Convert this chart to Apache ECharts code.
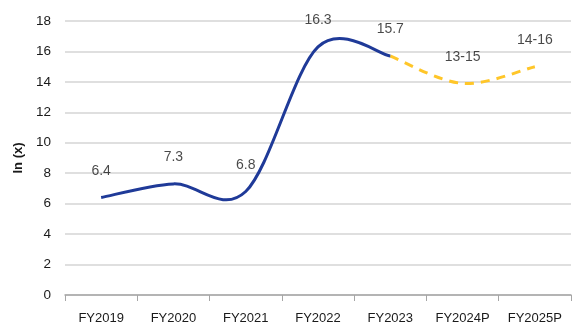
<!DOCTYPE html>
<html>
<head>
<meta charset="utf-8">
<script src="https://cdn.jsdelivr.net/npm/echarts@6/dist/echarts.min.js"></script>
<style>
  html, body { margin: 0; padding: 0; background: #fff; }
  #chart { width: 572px; height: 326px; }
</style>
</head>
<body>
<div id="chart"></div>
<script>
const categories = ["FY2019", "FY2020", "FY2021", "FY2022", "FY2023", "FY2024P", "FY2025P"]
// actuals (solid) and projections (dashed), projection drawn at mid of range
const actual = [6.4, 7.3, 6.8, 16.3, 15.7, null, null]
const projected = [null, null, null, null, 15.7, 13.9, 15.0]
const pointLabels = ["6.4", "7.3", "6.8", "16.3", "15.7", "13-15", "14-16"]
const yTicks = { min: 0, max: 18, interval: 2 }

const FONT = "Liberation Sans Narrow, Liberation Sans, sans-serif"

const chart = echarts.init(document.getElementById("chart"))

// excel style smoothed line (catmull-rom -> bezier), points come from api.coord
const smoothPath = (api, values) => {
  const pts = []
  values.forEach((v, i) => {
    if (v != null) pts.push(api.coord([i, v]))
  })
  let d = "M" + pts[0][0] + " " + pts[0][1]
  for (let i = 0; i < pts.length - 1; i++) {
    const p0 = pts[i - 1] || pts[i]
    const p1 = pts[i]
    const p2 = pts[i + 1]
    const p3 = pts[i + 2] || pts[i + 1]
    const c1 = [p1[0] + (p2[0] - p0[0]) / 6, p1[1] + (p2[1] - p0[1]) / 6]
    const c2 = [p2[0] - (p3[0] - p1[0]) / 6, p2[1] - (p3[1] - p1[1]) / 6]
    d += " C" + c1.join(" ") + " " + c2.join(" ") + " " + p2.join(" ")
  }
  return d
}

const curveSeries = (values, style) => ({
  type: "custom",
  clip: false,
  silent: true,
  data: values.map((v, i) => [i, v]).filter((d) => d[1] != null),
  encode: { x: 0, y: 1 },
  renderItem: (params, api) => {
    if (params.dataIndex !== 0) return
    return {
      type: "path",
      shape: { pathData: smoothPath(api, values) },
      style: Object.assign({ fill: null, lineCap: "butt", lineJoin: "round" }, style),
    }
  },
})

chart.setOption({
  animation: false,
  grid: { left: 65, right: 1, top: 21, bottom: 31 },
  xAxis: {
    type: "category",
    data: categories,
    boundaryGap: true,
    axisLine: { lineStyle: { color: "#a6a6a6", width: 1.5 } },
    axisTick: { show: true, length: 6, lineStyle: { color: "#a6a6a6" } },
    axisLabel: {
      interval: 0,
      color: "#1a1a1a",
      fontSize: 13,
      margin: 17,
      fontFamily: FONT,
    },
  },
  yAxis: {
    type: "value",
    min: yTicks.min,
    max: yTicks.max,
    interval: yTicks.interval,
    name: "In (x)",
    nameLocation: "middle",
    nameGap: 40,
    nameTextStyle: { color: "#1a1a1a", fontSize: 13, fontWeight: "bold", fontFamily: FONT },
    axisLine: { show: false },
    axisTick: { show: false },
    axisLabel: { color: "#1a1a1a", fontSize: 13.5, margin: 14, fontFamily: FONT },
    splitLine: { lineStyle: { color: "#d4d4d4", width: 1.5 } },
  },
  series: [
    curveSeries(projected, { stroke: "#ffc629", lineWidth: 3, lineDash: [9, 7] }),
    curveSeries(actual, { stroke: "#1f3a98", lineWidth: 3 }),
    {
      // data labels only
      type: "scatter",
      data: categories.map((c, i) => (actual[i] != null ? actual[i] : projected[i])),
      symbol: "circle",
      symbolSize: 1,
      itemStyle: { color: "rgba(0,0,0,0)" },
      silent: true,
      label: {
        show: true,
        position: "top",
        distance: 19,
        color: "#1a1a1a",
        fontSize: 14,
        fontFamily: FONT,
        formatter: (p) => pointLabels[p.dataIndex],
      },
      z: 5,
    },
  ],
})
</script>
</body>
</html>
